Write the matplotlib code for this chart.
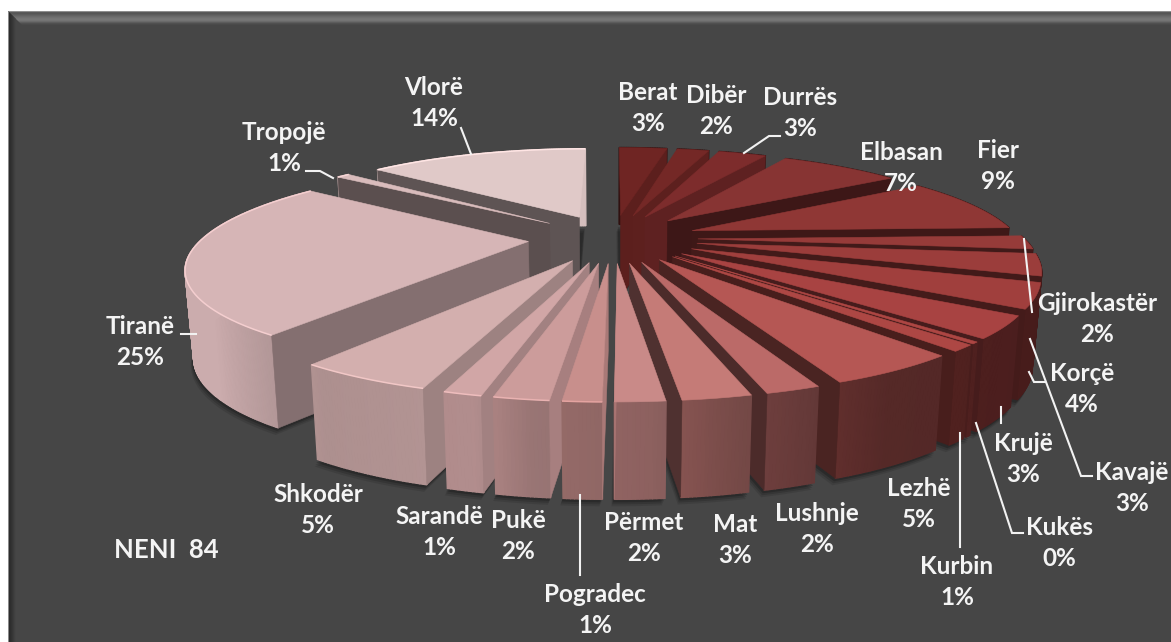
"""Neni 84 - exploded pseudo 3D pie, one wedge per district."""
import numpy as np
import matplotlib
matplotlib.use('Agg')
import matplotlib.pyplot as plt
from matplotlib.colors import to_rgb
from matplotlib.patches import Polygon, Rectangle

names = ['Berat', 'Dibër', 'Durrës', 'Elbasan', 'Fier', 'Gjirokastër', 'Kavajë', 'Korçë',
         'Krujë', 'Kukës', 'Kurbin', 'Lezhë', 'Lushnje', 'Mat', 'Përmet', 'Pogradec',
         'Pukë', 'Sarandë', 'Shkodër', 'Tiranë', 'Tropojë', 'Vlorë']
values = [3.0, 2.0, 3.0, 7.4, 9.0, 2.2, 3.5, 3.9, 3.4, 0.3, 1.0, 5.0, 2.0, 2.5, 1.8, 1.4,
          2.0, 1.4, 5.0, 25.4, 0.8, 13.7]
pct_labels = ['3%', '2%', '3%', '7%', '9%', '2%', '3%', '4%', '3%', '0%', '1%', '5%', '2%',
              '3%', '2%', '1%', '2%', '1%', '5%', '25%', '1%', '14%']
colors = ['#6f2523', '#742826', '#7d2c2c', '#873433', '#8f3735', '#963b39', '#9b3d3b', '#a03f3d',
          '#a84342', '#ad4643', '#ad4744', '#b55754', '#bb6a68', '#c57b77', '#c98a88', '#c88f8c',
          '#cc9c9b', '#d1a6a6', '#d3afae', '#d6b5b6', '#d9bcbc', '#e0c9c8']

# label centres in pixels
label_xy = {
    'Berat': (648, 108), 'Dibër': (716, 111), 'Durrës': (800, 113), 'Elbasan': (901, 168),
    'Fier': (998, 166), 'Gjirokastër': (1097, 319), 'Kavajë': (1132, 488), 'Korçë': (1082, 389),
    'Krujë': (1023, 459), 'Kukës': (1059, 543), 'Kurbin': (957, 582), 'Lezhë': (919, 504),
    'Lushnje': (817, 529), 'Mat': (735, 540), 'Përmet': (644, 538), 'Pogradec': (595, 610),
    'Pukë': (518, 536), 'Sarandë': (439, 532), 'Shkodër': (318, 510), 'Tiranë': (140, 342),
    'Tropojë': (284, 148), 'Vlorë': (434, 103),
}
leaders = [
    [(744, 153), (769, 136), (780, 136)],
    [(1024, 239), (1032, 312)],
    [(1029, 372), (1034, 382), (1045, 382)],
    [(1030, 339), (1081, 476), (1092, 476)],
    [(1001, 407), (1001, 423)],
    [(976, 423), (1012, 533), (1023, 533)],
    [(960, 433), (960, 547)],
    [(580, 495), (580, 575)],
    [(181, 334), (196, 334)],
    [(306, 171), (320, 171), (333, 178)],
    [(461, 128), (471, 154)],
]

CX, CY = 613, 238
RX, RY = 326, 92.6
PERSP = 0.229
EXPLODE = 0.26
THICK = 85
PANEL = '#464646'

plt.rcParams['font.family'] = ['Lato', 'DejaVu Sans']


def project(u, v):
    s = 1 / (1 + PERSP * v)
    return CX + RX * u * s, CY - RY * v * s


def drop(u, v):
    # same ground point, on the underside of the disc
    x, y = project(u, v)
    s = 1 / (1 + PERSP * v)
    return CX + (x - CX) * 0.98, y + THICK * s ** 0.4


def shade(col, f):
    return tuple(min(1, c * f) for c in to_rgb(col))


def rim_factor(deg):
    return np.interp(deg, [90, 150, 167, 176, 188, 194, 214, 232, 300],
                     [0.42, 0.47, 0.60, 0.70, 0.75, 0.85, 0.82, 0.95, 0.95])


def edge_factor(deg):
    return np.interp(deg, [11, 29, 55, 180, 180.01, 197, 214, 304],
                     [0.83, 0.75, 0.45, 0.40, 0.85, 0.75, 0.62, 0.42])


def wedge_points(t0, t1):
    mid = np.radians((t0 + t1) / 2)
    ou, ov = EXPLODE * np.sin(mid), EXPLODE * np.cos(mid)
    deg = np.linspace(t0, t1, max(3, int(t1 - t0) * 2 + 1))
    rad = np.radians(deg)
    return ou, ov, deg, ou + np.sin(rad), ov + np.cos(rad)


def draw_wedge(ax, t0, t1, col, z):
    ou, ov, deg, us, vs = wedge_points(t0, t1)
    mid = (t0 + t1) / 2
    # outer wall, one strip per step so the shade can drift
    for i in range(len(deg) - 1):
        a, b = project(us[i], vs[i]), project(us[i + 1], vs[i + 1])
        c, d = drop(us[i + 1], vs[i + 1]), drop(us[i], vs[i])
        c_ = shade(col, rim_factor((deg[i] + deg[i + 1]) / 2))
        ax.add_patch(Polygon([a, b, c, d], closed=True, fc=c_, ec=c_, lw=1.0, zorder=z))
    # the cut face turned towards the viewer
    k = -1 if mid < 180 else 0
    edge = t1 if mid < 180 else t0
    c_ = shade(col, edge_factor(edge))
    ax.add_patch(Polygon([project(ou, ov), project(us[k], vs[k]), drop(us[k], vs[k]), drop(ou, ov)],
                         closed=True, fc=c_, ec=c_, lw=0.4, zorder=z + 0.1))
    top = [project(ou, ov)] + [project(a, b) for a, b in zip(us, vs)]
    ax.add_patch(Polygon(top, closed=True, fc=col, ec=col, lw=0.4, zorder=z + 0.2))
    if mid > 178:
        rx, ry = zip(*top[1:])
        ax.plot(rx, ry, color=shade(col, 1.14), lw=1.1, zorder=z + 0.3, solid_capstyle='butt')


def draw_shadow(ax, t0, t1):
    ou, ov, deg, us, vs = wedge_points(t0, t1)
    pts = [drop(ou, ov)] + [drop(a, b) for a, b in zip(us, vs)]
    pts = np.array(pts)
    for off, al in [(7, 0.10), (5, 0.14), (3, 0.2)]:
        ax.add_patch(Polygon(pts + [-off * 0.4, off], closed=True, fc='black', ec='none',
                             alpha=al, zorder=1))


fig = plt.figure(figsize=(11.71, 6.42), dpi=100, facecolor='white')
ax = fig.add_axes([0, 0, 1, 1])
ax.set_xlim(0, 1171)
ax.set_ylim(642, 0)
ax.axis('off')

# panel with its bevel
ax.add_patch(Rectangle((8, 11), 1163, 631, fc=PANEL, ec='none', zorder=0))
for i, c_ in enumerate(['#8f8f8f', '#5a5a5a', '#565656', '#5c5c5c', '#636363', '#6a6a6a', '#707070',
                        '#757575', '#777777', '#747474', '#6a6a6a', '#5c5c5c', '#505050', '#4a4a4a']):
    ax.add_patch(Polygon([(8 + i, 11 + i), (1171, 11 + i), (1171, 12 + i), (9 + i, 12 + i)],
                         closed=True, fc=c_, ec='none', zorder=0.2))
for i, c_ in enumerate(['#8a8a8a', '#2c2c2c', '#2e2e2e', '#323232', '#363636', '#3b3b3b', '#404040', '#444444']):
    ax.add_patch(Polygon([(8 + i, 11 + i), (9 + i, 12 + i), (9 + i, 642), (8 + i, 642)],
                         closed=True, fc=c_, ec='none', zorder=0.3))

shares = np.array(values) / sum(values) * 360
ends = np.cumsum(shares)
starts = ends - shares
mids = (starts + ends) / 2

for a, b in zip(starts, ends):
    draw_shadow(ax, a, b)

# back wedges first, nearest ones last
order = np.argsort(-np.cos(np.radians(mids)))
for n, i in enumerate(order):
    draw_wedge(ax, starts[i], ends[i], colors[i], 2 + n)

for pts in leaders:
    xs, ys = zip(*pts)
    ax.plot(xs, ys, color='#f2f2f2', lw=1.5, zorder=60, solid_joinstyle='miter')

for name, pct in zip(names, pct_labels):
    x, y = label_xy[name]
    ax.text(x, y, f'{name}\n{pct}', ha='center', va='center', fontsize=17.5, fontweight='bold',
            color='#f4f4f4', linespacing=1.38, zorder=70)

ax.text(114, 550, 'NENI  84', ha='left', va='center', fontsize=18.5, fontweight='bold',
        color='#f4f4f4', zorder=70)

fig.savefig('out.png', dpi=100, facecolor='white')
plt.close(fig)
